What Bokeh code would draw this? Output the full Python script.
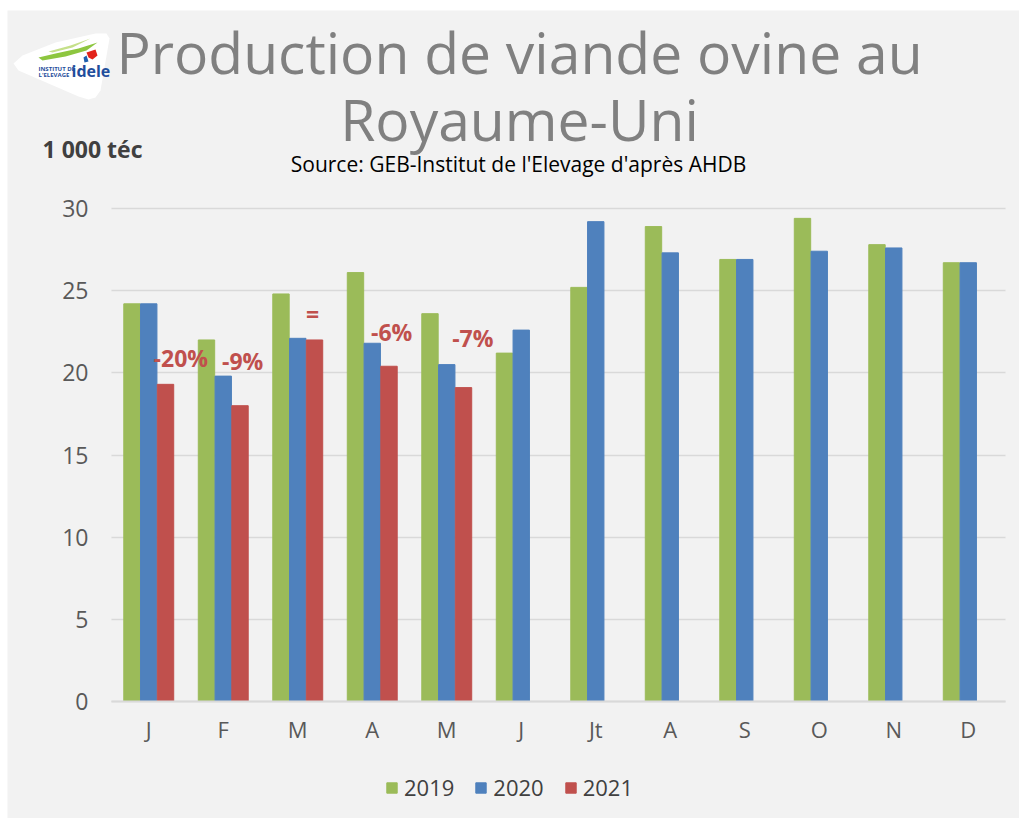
from bokeh.plotting import figure
from bokeh.layouts import column, row
from bokeh.models import (ColumnDataSource, Label, Legend, LegendItem, FixedTicker,
                          LinearAxis, Grid, PolyAnnotation, Range1d, Spacer)
from bokeh.transform import dodge
from bokeh.embed import file_html
from bokeh.resources import INLINE

# ---------------- data ----------------
months = ["J", "F", "M", "A", "M", "J", "Jt", "A", "S", "O", "N", "D"]
v2019 = [24.2, 22.0, 24.8, 26.1, 23.6, 21.2, 25.2, 28.9, 26.9, 29.4, 27.8, 26.7]
v2020 = [24.2, 19.8, 22.1, 21.8, 20.5, 22.6, 29.2, 27.3, 26.9, 27.4, 27.6, 26.7]
v2021 = [19.3, 18.0, 22.0, 20.4, 19.1]
years = ["2019", "2020", "2021"]
colors = ["#9bbb59", "#4f81bd", "#c0504d"]
y_ticks = [0, 5, 10, 15, 20, 25, 30]
changes = ["-20%", "-9%", "=", "-6%", "-7%"]
change_y = [20.9, 20.75, 23.6, 22.5, 22.1]
change_dx = [0.43, 0.26, 0.20, 0.26, 0.35]

title1 = "Production de viande ovine au"
title2 = "Royaume-Uni"
subtitle = "Source: GEB-Institut de l'Elevage d'après AHDB"
unit = "1 000 téc"

FONT = "Open Sans"
BG = "#f2f2f2"
# page geometry: canvas occupies page x 7..1019, y 10..818
OX, OY = 7, 10
W, H = 1012, 808
PX0, PX1 = 111, 1005        # plot area left / right (page px)
PY30, PY0 = 208, 701        # y=30 and y=0 (page px)
xs = (PX1 - PX0) / 12.0
ys = (PY0 - PY30) / 30.0
x_range = Range1d(-0.5 - (PX0 - OX) / xs, 11.5 + (OX + W - PX1) / xs)
y_range = Range1d(-(OY + H - PY0) / ys, 30 + (PY30 - OY) / ys)

p = figure(width=W, height=H, output_backend="svg", toolbar_location=None,
           x_range=x_range, y_range=y_range, x_axis_type=None, y_axis_type=None,
           background_fill_color=BG, border_fill_color=BG,
           min_border=0, min_border_left=0, min_border_right=0,
           min_border_top=0, min_border_bottom=0)
p.outline_line_color = None

# grid (horizontal lines at the y ticks)
ygrid = Grid(dimension=1, ticker=FixedTicker(ticks=y_ticks),
             grid_line_color="#d9d9d9", grid_line_width=1.5)
try:
    ygrid.cross_bounds = (-0.5, 11.5)
except Exception:
    pass
p.add_layout(ygrid)

x_idx = list(range(len(months)))
src19 = ColumnDataSource(dict(x=x_idx, v=v2019))
src20 = ColumnDataSource(dict(x=x_idx, v=v2020))
src21 = ColumnDataSource(dict(x=x_idx[:len(v2021)], v=v2021))

bw = 0.22
r19 = p.vbar(x=dodge("x", -0.225), top="v", width=bw, source=src19,
             fill_color=colors[0], line_color=colors[0])
r20 = p.vbar(x=dodge("x", 0.0), top="v", width=bw, source=src20,
             fill_color=colors[1], line_color=colors[1])
r21 = p.vbar(x=dodge("x", 0.225), top="v", width=bw, source=src21,
             fill_color=colors[2], line_color=colors[2])

for i, t in enumerate(changes):
    p.add_layout(Label(x=i + change_dx[i], y=change_y[i], text=t,
                       text_align="center", text_baseline="middle",
                       text_font=FONT, text_font_style="bold",
                       text_font_size="23px", text_color="#c0504d"))

# axes drawn inside the frame at fixed data locations
xaxis = LinearAxis(ticker=FixedTicker(ticks=x_idx), fixed_location=0, bounds=(-0.5, 11.5),
                   major_label_overrides={i: m for i, m in enumerate(months)},
                   major_tick_line_color=None, minor_tick_line_color=None,
                   axis_line_color="#d9d9d9", axis_line_width=2,
                   major_label_text_font=FONT, major_label_text_font_size="22px",
                   major_label_text_color="#595959", major_label_standoff=6)
yaxis = LinearAxis(ticker=FixedTicker(ticks=y_ticks), fixed_location=-0.5,
                   major_tick_line_color=None, minor_tick_line_color=None,
                   axis_line_color=None,
                   major_label_text_font=FONT, major_label_text_font_size="23px",
                   major_label_text_color="#595959", major_label_standoff=17)
p.add_layout(xaxis, "below")
p.add_layout(yaxis, "left")

# legend
legend = Legend(items=[LegendItem(label=years[0], renderers=[r19]),
                       LegendItem(label=years[1], renderers=[r20]),
                       LegendItem(label=years[2], renderers=[r21])],
                orientation="horizontal", location=(385 - OX, 16),
                background_fill_alpha=0, border_line_color=None,
                glyph_width=13, glyph_height=13, label_standoff=6, spacing=20,
                label_text_font=FONT, label_text_font_size="22px",
                label_text_color="#404040", margin=0, padding=0, label_height=22)
p.add_layout(legend)


# frame covers the whole canvas: screen units from canvas bottom-left
def S(px, py):
    return px - OX, OY + H - py


def lab(px, py, text, size_px, color, align="center", style="normal"):
    # py is the wanted baseline on the page; correct for the renderer's baseline offset
    sx, sy = S(px, py - 0.385 * size_px)
    p.add_layout(Label(x=sx, y=sy, x_units="screen", y_units="screen", text=text,
                       text_align=align, text_baseline="alphabetic",
                       text_font=FONT, text_font_style=style,
                       text_font_size=f"{size_px}px", text_color=color))


def shape(pts, color):
    sx, sy = zip(*[S(a, b) for a, b in pts])
    p.add_layout(PolyAnnotation(xs=list(sx), ys=list(sy), xs_units="screen",
                                ys_units="screen", fill_color=color, fill_alpha=1,
                                line_color=None))


# logo
shape([(13, 63), (22, 55), (55, 42), (95, 33), (106, 33), (109, 38), (100, 90), (95, 97),
       (88, 99), (78, 96), (18, 70)], "#ffffff")
shape([(38, 57), (55, 53), (78, 48), (97, 42), (86, 50), (65, 56), (42, 60)], "#8dc63f")
shape([(48, 51), (70, 45), (90, 38), (72, 47), (52, 52)], "#c5e08a")
shape([(86, 52), (95, 49), (97, 55), (92, 59), (88, 57)], "#e2231a")
shape([(83, 57), (86, 55), (88, 61), (84, 62)], "#1f5fae")
lab(38, 71, "INSTITUT DE", 6, "#1f4e9c", align="left", style="bold")
lab(38, 76.5, "L'ELEVAGE", 6, "#1f4e9c", align="left", style="bold")
lab(71, 76.5, "idele", 16, "#1f4e9c", align="left", style="bold")

# titles
lab(519, 73, title1, 57, "#808080")
lab(519, 140, title2, 57, "#808080")
lab(518, 172, subtitle, 21, "#000000")
lab(42, 157, unit, 23, "#404040", align="left", style="bold")

layout = column(Spacer(height=OY), row(Spacer(width=OX), p))
open("out.html", "w").write(file_html(layout, INLINE))
